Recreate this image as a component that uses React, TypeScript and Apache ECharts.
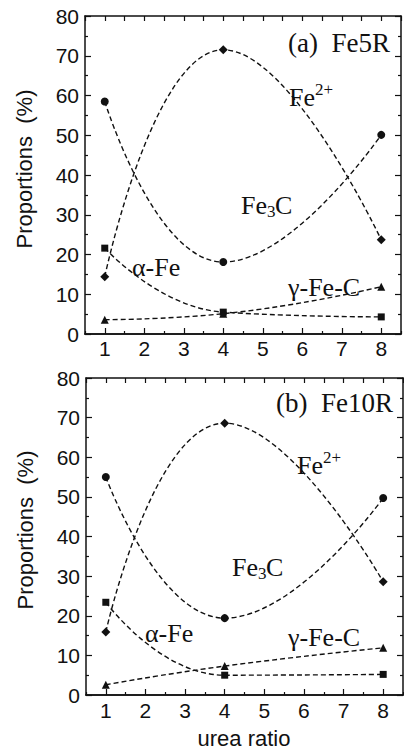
import React, { useEffect, useRef } from "react";
import * as echarts from "echarts";

const xValues = [1, 4, 8];
const xTickLabels = [1, 2, 3, 4, 5, 6, 7, 8];
const xMinorTicks = [0.5, 1.5, 2.5, 3.5, 4.5, 5.5, 6.5, 7.5, 8.5];

const fe3cA = [58.5, 18.1, 50.1];
const fe2A = [14.4, 71.5, 23.7];
const alphaA = [21.6, 5.5, 4.3];
const gammaA = [3.6, 5.1, 11.9];

const fe3cB = [55.0, 19.4, 49.7];
const fe2B = [15.9, 68.6, 28.6];
const alphaB = [23.4, 5.0, 5.2];
const gammaB = [2.6, 7.3, 11.9];

const SERIF = "'Liberation Serif', 'DejaVu Serif', serif";
const SANS = "'Liberation Sans', Arial, sans-serif";
const INK = "#111";

function pairs(vals: number[]) {
  return xValues.map((x, i) => [x, vals[i]]);
}

export default function App() {
  const ref = useRef<HTMLDivElement>(null);

  useEffect(() => {
    if (!ref.current) return;
    const chart = echarts.init(ref.current, undefined, { renderer: "svg" });

    const grids = [
      { left: 85, top: 16, width: 316, height: 318 },
      { left: 86, top: 378, width: 317, height: 317 },
    ];

    const xAxes: any[] = [];
    const yAxes: any[] = [];
    grids.forEach((_, g) => {
      const base = {
        gridIndex: g,
        type: "value",
        min: 0.5,
        max: 8.5,
        splitLine: { show: false },
        axisLine: { show: true, onZero: false, lineStyle: { color: INK, width: 1.5 } },
      };
      xAxes.push({
        ...base,
        position: "bottom",
        axisTick: { show: true, inside: true, length: 6, customValues: xTickLabels, lineStyle: { color: INK, width: 1.2 } },
        axisLabel: { show: true, customValues: xTickLabels, fontSize: 21, fontFamily: SANS, color: INK, margin: g === 0 ? 4 : 5 },
      });
      xAxes.push({
        ...base,
        position: "bottom",
        axisTick: { show: true, inside: true, length: 3, customValues: xMinorTicks, lineStyle: { color: INK, width: 1.2 } },
        axisLabel: { show: false },
      });
      xAxes.push({
        ...base,
        position: "top",
        axisTick: { show: true, inside: true, length: 5, customValues: xTickLabels.concat(xMinorTicks), lineStyle: { color: INK, width: 1.2 } },
        axisLabel: { show: false },
      });
      const ybase = {
        gridIndex: g,
        type: "value",
        min: 0,
        max: 80,
        interval: 10,
        splitLine: { show: false },
        axisLine: { show: true, onZero: false, lineStyle: { color: INK, width: 1.5 } },
        axisTick: { show: true, inside: true, length: 6, lineStyle: { color: INK, width: 1.2 } },
        minorTick: { show: true, splitNumber: 2, length: 3, lineStyle: { color: INK, width: 1.2 } },
        minorSplitLine: { show: false },
      };
      yAxes.push({
        ...ybase,
        position: "left",
        axisLabel: { show: true, fontSize: 21, fontFamily: SANS, color: INK, margin: 6 },
      });
      yAxes.push({
        ...ybase,
        position: "right",
        axisLabel: { show: false },
      });
    });

    const mk = (g: number, vals: number[], symbol: string, size: number) => ({
      type: "line",
      xAxisIndex: g * 3,
      yAxisIndex: g * 2,
      data: pairs(vals),
      smooth: 0.5,
      symbol,
      symbolSize: size,
      showSymbol: true,
      lineStyle: { color: INK, width: 1.4, type: [5, 3] },
      itemStyle: { color: INK, borderWidth: 0 },
      z: 3,
    });

    const series = [
      mk(0, fe3cA, "circle", 8),
      mk(0, fe2A, "diamond", 9),
      mk(0, alphaA, "rect", 7),
      mk(0, gammaA, "triangle", 8),
      mk(1, fe3cB, "circle", 8),
      mk(1, fe2B, "diamond", 9),
      mk(1, alphaB, "rect", 7),
      mk(1, gammaB, "triangle", 8),
    ];

    const t = (text: string, x: number, y: number, size: number, extra: any = {}) => ({
      type: "text",
      x,
      y,
      z: 10,
      style: {
        text,
        fill: INK,
        fontSize: size,
        fontFamily: SERIF,
        textAlign: "left",
        textVerticalAlign: "middle",
        ...extra,
      },
    });

    const graphic: any[] = [
      t("(a)  Fe5R", 390, 43, 27, { textAlign: "right" }),
      t("Fe", 289, 97, 26),
      t("2+", 315, 89, 17),
      t("Fe", 241, 205, 26),
      t("3", 267, 211, 17),
      t("C", 275, 205, 26),
      t("α-Fe", 132, 267, 26),
      t("γ-Fe-C", 288, 287, 26),

      t("(b)  Fe10R", 393, 403, 27, { textAlign: "right" }),
      t("Fe", 297, 465, 26),
      t("2+", 323, 457, 17),
      t("Fe", 232, 567, 26),
      t("3", 258, 573, 17),
      t("C", 266, 567, 26),
      t("α-Fe", 145, 633, 26),
      t("γ-Fe-C", 288, 637, 26),

      {
        type: "text",
        x: 24,
        y: 169,
        rotation: Math.PI / 2,
        style: { text: "Proportions  (%)", fill: INK, fontSize: 22, fontFamily: SANS, textAlign: "center", textVerticalAlign: "middle" },
      },
      {
        type: "text",
        x: 25,
        y: 530,
        rotation: Math.PI / 2,
        style: { text: "Proportions  (%)", fill: INK, fontSize: 22, fontFamily: SANS, textAlign: "center", textVerticalAlign: "middle" },
      },
      {
        type: "text",
        x: 244,
        y: 738,
        style: { text: "urea ratio", fill: INK, fontSize: 22, fontFamily: SANS, textAlign: "center", textVerticalAlign: "middle" },
      },
    ];

    chart.setOption({
      animation: false,
      backgroundColor: "#fff",
      grid: grids,
      xAxis: xAxes,
      yAxis: yAxes,
      series,
      graphic,
    });

    return () => chart.dispose();
  }, []);

  return (
    <div
      ref={ref}
      style={{ position: "absolute", left: 0, top: 0, width: 404, height: 751 }}
    />
  );
}
